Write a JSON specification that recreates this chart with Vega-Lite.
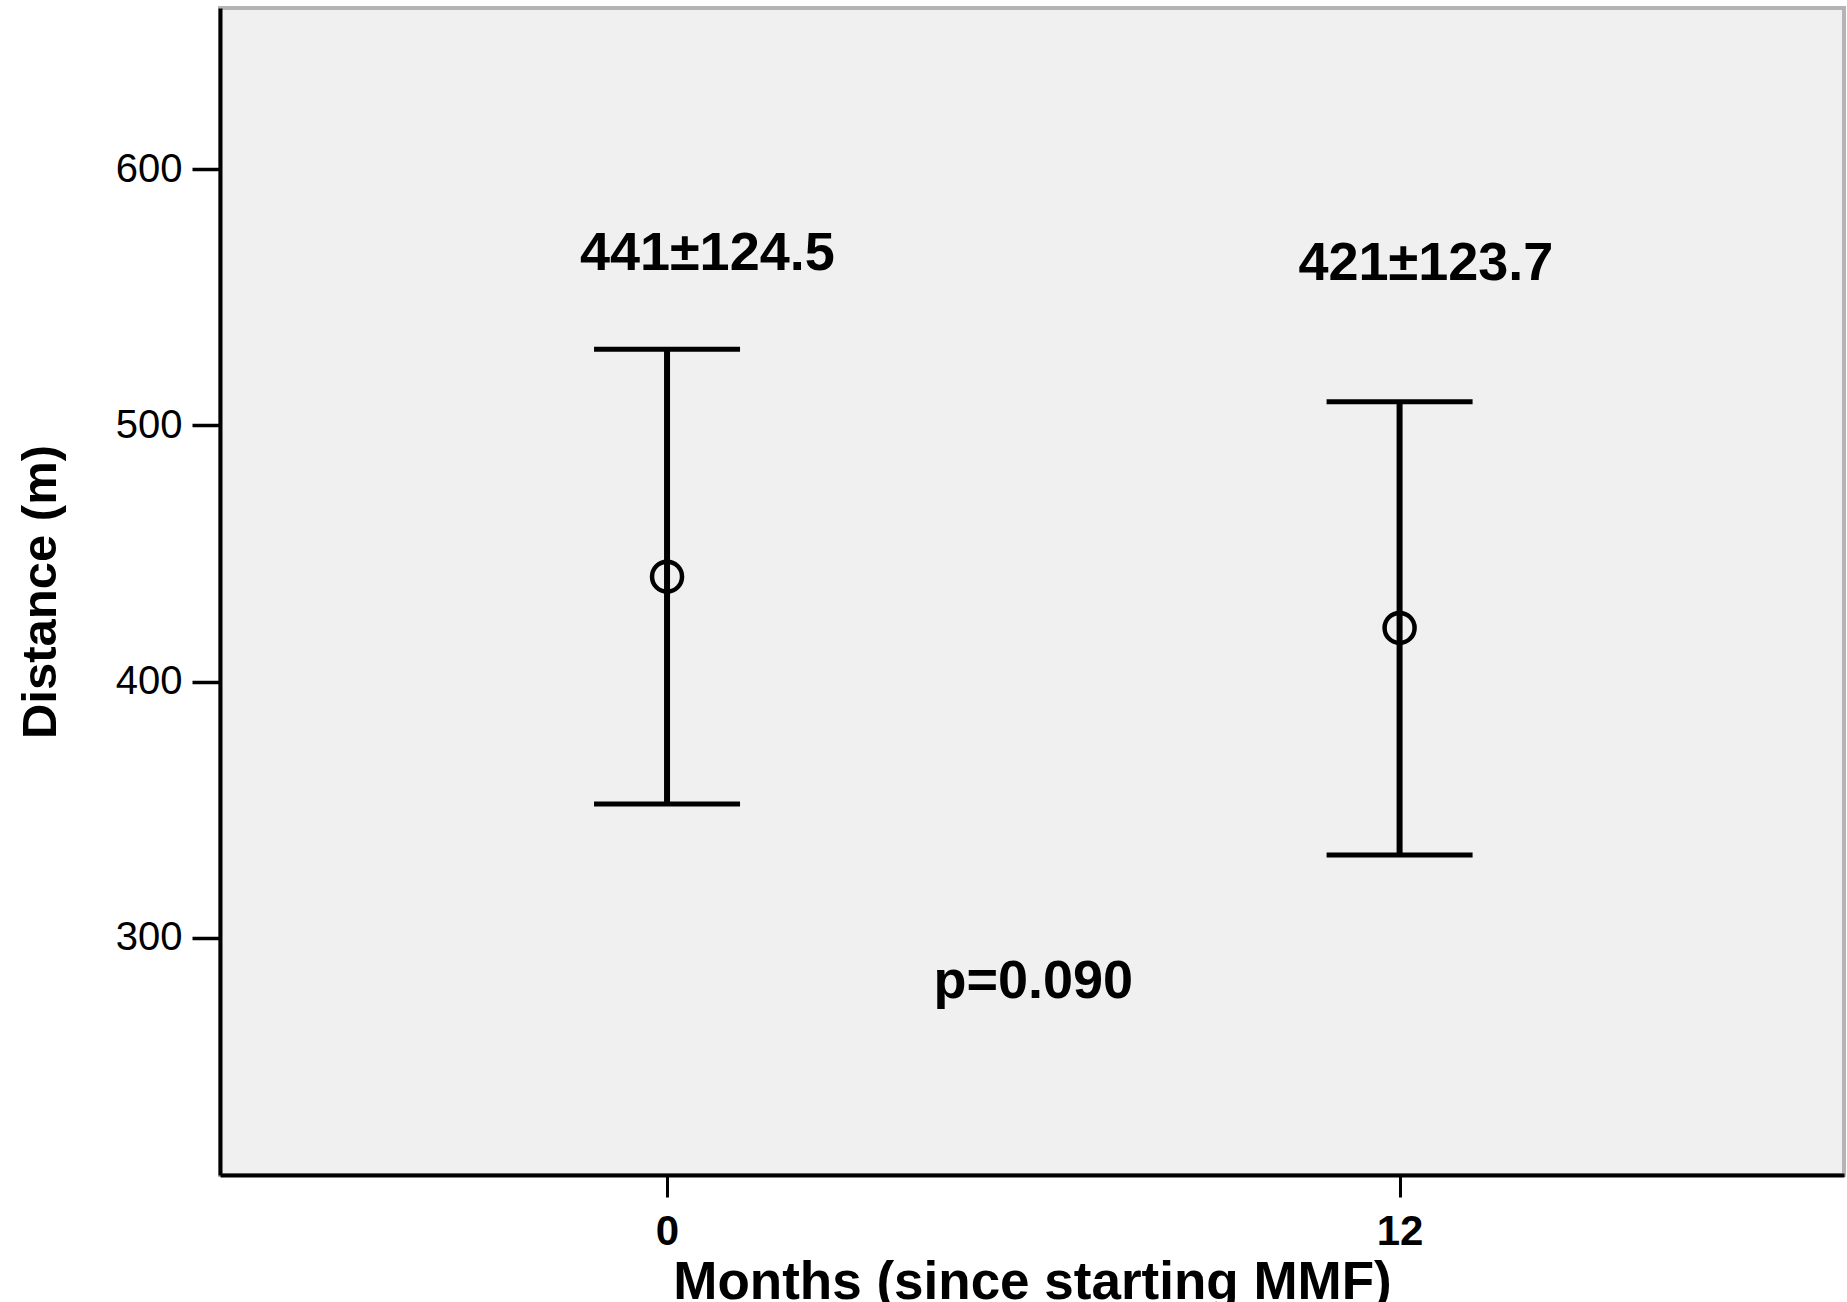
{
  "$schema": "https://vega.github.io/schema/vega-lite/v6.json",
  "width": 1624,
  "height": 1167,
  "autosize": {"type": "none"},
  "padding": {"left": 220, "top": 8, "right": 3, "bottom": 127},
  "background": "white",
  "config": {
    "view": {"fill": "#f0f0f0", "stroke": "#b4b4b4", "strokeWidth": 4},
    "font": "Liberation Sans",
    "axisX": {
      "grid": false,
      "domainColor": "black", "domainWidth": 4,
      "tickColor": "black", "tickWidth": 3, "tickSize": 22,
      "labelFontSize": 42, "labelFontWeight": "bold", "labelColor": "black", "labelPadding": 14,
      "titleFontSize": 53, "titleFontWeight": "bold", "titleColor": "black", "titlePadding": 4
    },
    "axisY": {
      "grid": false,
      "domainColor": "black", "domainWidth": 4,
      "tickColor": "black", "tickWidth": 3.5, "tickSize": 28,
      "labelFontSize": 40, "labelColor": "black", "labelPadding": 10,
      "titleFontSize": 49, "titleFontWeight": "bold", "titleColor": "black", "titlePadding": 50
    }
  },
  "datasets": {
    "stats": [
      {"month": 0, "mean": 441, "lo": 352.3, "hi": 529.7},
      {"month": 12, "mean": 421, "lo": 332.4, "hi": 509.2}
    ],
    "labels": [
      {"x": 0.66, "y": 560.7, "text": "441±124.5"},
      {"x": 12.43, "y": 556.8, "text": "421±123.7"},
      {"x": 6, "y": 276.6, "text": "p=0.090"}
    ]
  },
  "layer": [
    {
      "data": {"name": "stats"},
      "mark": {"type": "rule", "color": "black", "strokeWidth": 6, "opacity": 1},
      "encoding": {
        "x": {
          "field": "month", "type": "quantitative",
          "title": "Months (since starting MMF)",
          "scale": {"domain": [-7.323, 19.28], "nice": false, "zero": false},
          "axis": {"values": [0, 12], "format": "d"}
        },
        "y": {
          "field": "lo", "type": "quantitative",
          "title": "Distance (m)",
          "scale": {"domain": [207.5, 662.9], "nice": false, "zero": false},
          "axis": {"values": [300, 400, 500, 600], "format": "d"}
        },
        "y2": {"field": "hi"}
      }
    },
    {
      "data": {"name": "stats"},
      "mark": {"type": "tick", "orient": "horizontal", "size": 146, "thickness": 5, "color": "black", "opacity": 1},
      "encoding": {
        "x": {"field": "month", "type": "quantitative", "title": "Months (since starting MMF)"},
        "y": {"field": "hi", "type": "quantitative", "title": "Distance (m)"}
      }
    },
    {
      "data": {"name": "stats"},
      "mark": {"type": "tick", "orient": "horizontal", "size": 146, "thickness": 5, "color": "black", "opacity": 1},
      "encoding": {
        "x": {"field": "month", "type": "quantitative", "title": "Months (since starting MMF)"},
        "y": {"field": "lo", "type": "quantitative", "title": "Distance (m)"}
      }
    },
    {
      "data": {"name": "stats"},
      "mark": {"type": "point", "shape": "circle", "filled": false, "size": 900, "strokeWidth": 4.5, "color": "black", "opacity": 1},
      "encoding": {
        "x": {"field": "month", "type": "quantitative", "title": "Months (since starting MMF)"},
        "y": {"field": "mean", "type": "quantitative", "title": "Distance (m)"}
      }
    },
    {
      "data": {"name": "labels"},
      "mark": {"type": "text", "fontSize": 54, "fontWeight": "bold", "color": "black", "align": "center", "baseline": "alphabetic"},
      "encoding": {
        "x": {"field": "x", "type": "quantitative", "title": "Months (since starting MMF)"},
        "y": {"field": "y", "type": "quantitative", "title": "Distance (m)"},
        "text": {"field": "text"}
      }
    }
  ]
}
